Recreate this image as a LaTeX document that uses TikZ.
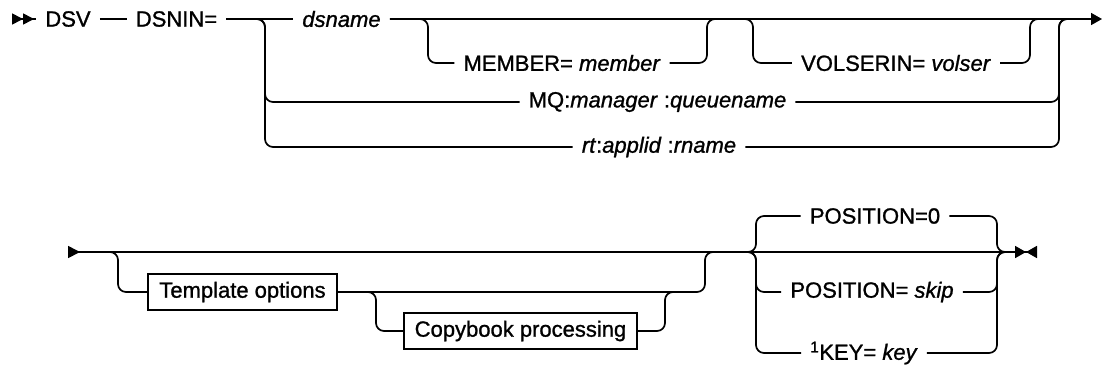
\documentclass[tikz,border=0pt]{standalone}
\usepackage{fontspec}
\setmainfont{Liberation Sans}[UprightFeatures={FakeBold=1.1},ItalicFeatures={FakeBold=1.1}]
\usetikzlibrary{arrows.meta}

\begin{document}
\begin{tikzpicture}[
  x=1pt,y=-1pt,
  font=\fontsize{22}{26}\selectfont,
  term/.style={inner xsep=9pt,inner ysep=2pt},
  block/.style={draw,line width=1.7pt,inner xsep=11pt,minimum height=36pt},
  rail/.style={line width=1.7pt,rounded corners=8pt},
]
\useasboundingbox (0,0) rectangle (1102,368);
% first line
\coordinate (beg1) at (12,19);
\node[term] (dsv) at (68,19) {DSV};
\node[term] (dsnin) at (176.5,19) {DSNIN=};
\coordinate (j1) at (265,19);
\node[term] (dsname) at (341.5,19) {\textit{dsname}};
\coordinate (m1) at (428,19);
\node[term] (member) at (562,63) {MEMBER= \textit{member}};
\coordinate (m2) at (707,19);
\coordinate (v1) at (753,19);
\node[term] (volser) at (896,63) {VOLSERIN= \textit{volser}};
\coordinate (v2) at (1030,19);
\node[term] (mq) at (657.5,102) {MQ:\textit{manager} :\textit{queuename}};
\node[term] (rt) at (659,147) {\textit{rt}:\textit{applid} :\textit{rname}};
\coordinate (j2) at (1059,19);
\coordinate (r1) at (1071,19);
\coordinate (end1) at (1102,19);
\draw[rail,{Triangle[reversed,length=11pt,width=11pt]Triangle[reversed,length=11pt,width=11pt]}-] (beg1) -- (dsv);
\draw[rail] (dsv) -- (dsnin);
\draw[rail] (dsnin) -- (dsname);
\draw[rail,-{Triangle[length=11pt,width=12pt]}] (dsname) -- (end1);
\draw[rail] (dsnin) -- (j1) |- (mq);
\draw[rail] (dsnin) -- (j1) |- (rt);
\draw[rail] (mq) -| (j2) -- (r1);
\draw[rail] (rt) -| (j2) -- (r1);
\draw[rail] (dsname) -- (m1) |- (member);
\draw[rail] (member) -| (m2) -- (v1) |- (volser);
\draw[rail] (volser) -| (v2) -- (j2);
% second line
\coordinate (beg2) at (68,252);
\coordinate (o1) at (118,252);
\node[block] (tmpl) at (242.5,292) {Template options};
\coordinate (n1) at (376,292);
\node[block] (copy) at (520.5,331) {Copybook processing};
\coordinate (n2) at (665,292);
\coordinate (n3) at (677,292);
\coordinate (o2) at (705,252);
\coordinate (p1) at (756,252);
\node[term] (pos0) at (875,216) {POSITION=0};
\node[term] (skip) at (872,292) {POSITION= \textit{skip}};
\node[term] (key) at (864,353) {\textsuperscript{1}KEY= \textit{key}};
\coordinate (p2) at (997,252);
\coordinate (px) at (1009,252);
\coordinate (end2) at (1037,252);
\draw[rail,{Triangle[reversed,length=12pt,width=12pt]}-{Triangle[length=11pt,width=12pt]Triangle[reversed,length=11pt,width=12pt]}] (beg2) -- (end2);
\draw[rail] (beg2) -- (o1) |- (tmpl);
\draw[rail] (tmpl) -| (o2) -- (p1);
\draw[rail] (tmpl) -- (n1) |- (copy);
\draw[rail] (copy) -| (n2) -- (n3);
\draw[rail] (o2) -- (p1) |- (pos0);
\draw[rail] (o2) -- (p1) |- (skip);
\draw[rail] (o2) -- (p1) |- (key);
\draw[rail] (pos0) -| (p2) -- (px);
\draw[rail] (skip) -| (p2) -- (px);
\draw[rail] (key) -| (p2) -- (px);
\end{tikzpicture}
\end{document}
